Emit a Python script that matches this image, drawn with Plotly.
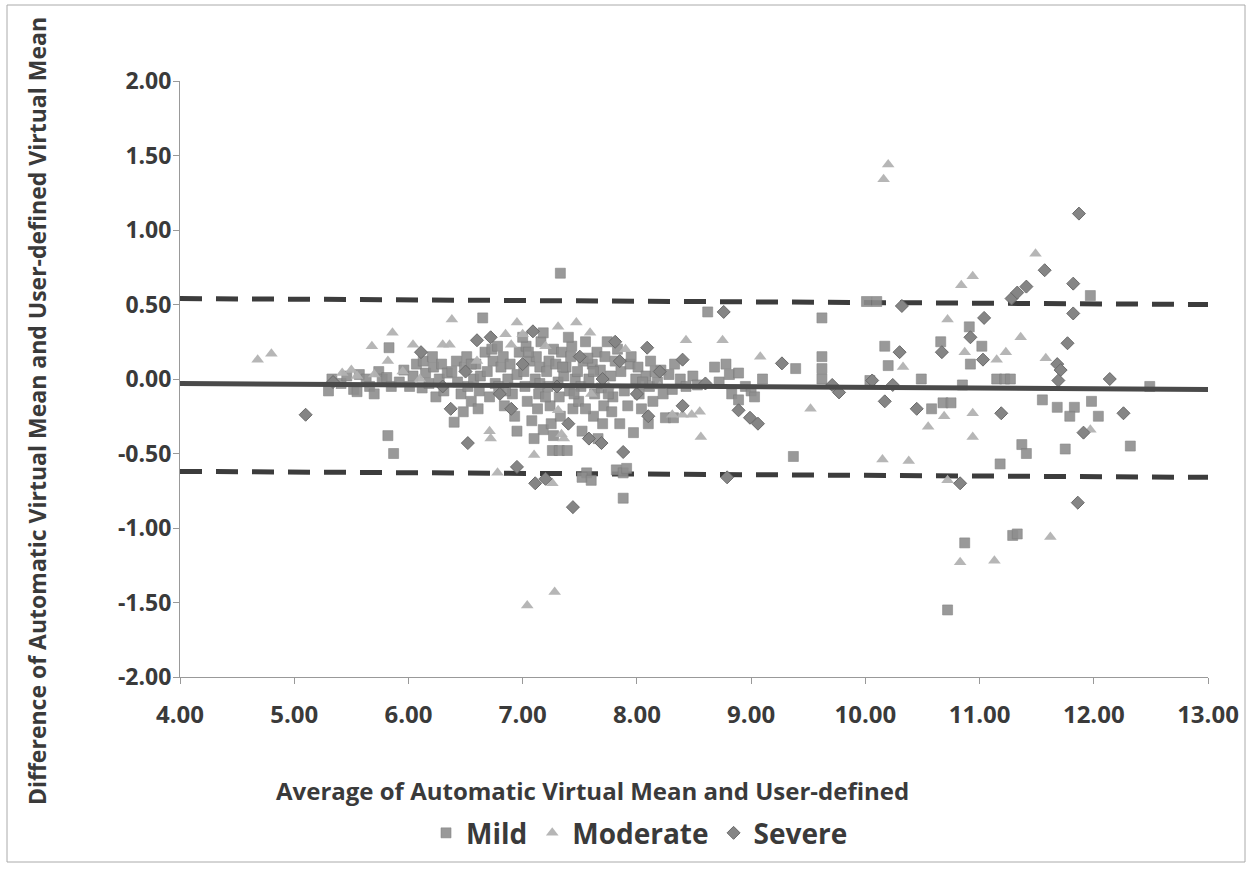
import plotly.graph_objects as go

# ---------------- data ----------------
mild_x = [5.30, 5.33, 5.41, 5.46, 5.52, 5.57, 5.55, 5.63, 5.66, 5.70, 5.74, 5.77, 5.81, 5.85, 5.83, 5.82, 5.87,
          5.92, 5.96, 6.01, 6.04, 6.07, 6.12, 6.15, 6.13, 6.18, 6.22, 6.24, 6.21, 6.27, 6.31, 6.29, 6.34,
          6.40, 6.38, 6.43, 6.42, 6.46, 6.49, 6.52, 6.51, 6.55, 6.57, 6.59, 6.62, 6.63, 6.61, 6.67, 6.65,
          6.69, 6.71, 6.74, 6.76, 6.73, 6.79, 6.81, 6.84, 6.83, 6.87, 6.89, 6.91, 6.93, 6.95, 6.97,
          7.01, 7.02, 7.04, 7.06, 7.03, 7.08, 7.11, 7.12, 7.14, 7.13, 7.16, 7.15, 7.18, 7.18,
          7.21, 7.22, 7.24, 7.23, 7.25, 7.27, 7.29, 7.31, 7.32, 7.34, 7.33, 7.36, 7.26, 7.32, 7.39, 7.33,
          7.38, 7.41, 7.42, 7.44, 7.46, 7.43, 7.48, 7.51, 7.49, 7.53, 7.52, 7.55, 7.56, 7.52, 7.60,
          7.58, 7.61, 7.63, 7.62, 7.65, 7.68, 7.69, 7.71, 7.72, 7.70, 7.74, 7.77, 7.79, 7.81, 7.78, 7.83,
          7.82, 7.88, 7.91, 7.88, 7.86, 7.89, 7.92, 7.94, 7.97, 7.99, 8.02, 8.01, 8.04, 8.08, 8.11, 8.12, 8.14,
          8.18, 8.21, 8.23, 8.25, 8.32, 8.28, 8.31, 8.33, 8.38, 8.43, 8.49, 8.53, 8.62, 8.68, 8.72,
          8.78, 8.81, 8.83, 8.89, 8.89, 8.95, 9.00, 9.03, 9.10,
          6.85, 7.05, 7.20, 7.35, 7.45, 7.62, 7.75, 7.95, 8.05, 6.55, 7.15, 7.40, 7.27, 7.66, 7.85,
          8.10, 6.95, 7.10, 7.55, 7.00, 6.48, 6.78, 7.57, 8.16,
          9.37, 9.39, 9.62, 9.62, 9.62, 9.62,
          10.01, 10.10, 10.04, 10.17, 10.20, 10.49, 10.58, 10.66, 10.68, 10.91, 10.92, 11.02, 11.15, 11.22,
          11.27, 11.55, 11.68, 11.83, 11.79, 11.98, 12.04, 12.32, 12.49, 11.37, 11.41, 11.75, 11.18, 11.97,
          10.72, 10.87, 11.29, 11.33, 10.75, 10.85]
mild_y = [-0.08, 0.00, -0.03, 0.02, -0.07, 0.03, -0.085, 0.00, -0.05, -0.10, 0.05, 0.00, 0.01, -0.05, 0.21, -0.38, -0.50,
          -0.02, 0.06, -0.05, 0.02, 0.10, -0.06, 0.04, 0.12, -0.03, 0.08, -0.12, 0.15, 0.00, -0.08, 0.10, 0.04,
          -0.29, 0.05, -0.02, 0.12, -0.10, 0.08, -0.05, 0.15, -0.15, 0.00, 0.10, -0.08, 0.02, -0.20, 0.18, 0.41,
          0.05, -0.12, 0.12, -0.03, 0.20, -0.05, 0.08, -0.18, 0.15, 0.00, 0.10, -0.10, -0.25, 0.03, 0.18,
          0.05, -0.05, -0.15, 0.12, 0.22, -0.28, 0.00, 0.15, -0.10, -0.20, 0.25, 0.08, 0.31, -0.34,
          0.05, -0.05, -0.18, 0.12, -0.30, 0.20, 0.10, -0.02, -0.12, 0.18, -0.25, 0.02, -0.48, -0.48, -0.48, 0.71,
          0.08, -0.08, 0.15, -0.20, 0.00, 0.22, 0.05, -0.05, -0.15, 0.12, -0.35, 0.25, -0.63, -0.66, -0.68,
          0.00, 0.10, -0.10, -0.25, 0.18, 0.06, -0.06, -0.18, 0.15, -0.30, 0.25, 0.02, -0.12, 0.12, -0.22, 0.20,
          -0.61, -0.63, -0.60, -0.80, 0.05, -0.08, -0.18, 0.10, -0.36, 0.00, -0.10, 0.08, -0.20, 0.02, -0.05, 0.12, -0.15,
          -0.02, 0.06, -0.10, -0.26, -0.26, 0.03, -0.07, 0.10, 0.00, -0.05, 0.02, -0.04, 0.45, 0.08, -0.02,
          0.10, 0.03, -0.10, 0.04, -0.14, -0.05, -0.08, -0.12, 0.00,
          -0.08, 0.18, -0.12, 0.08, -0.10, 0.05, -0.10, 0.15, -0.02, 0.10, -0.03, 0.28, -0.38, -0.40, -0.30,
          -0.30, -0.35, -0.40, -0.20, 0.28, -0.22, 0.22, 0.14, 0.05,
          -0.52, 0.07, 0.41, 0.15, 0.07, 0.00,
          0.52, 0.52, -0.01, 0.22, 0.09, 0.00, -0.20, 0.25, -0.16, 0.35, 0.10, 0.22, 0.00, 0.00,
          0.00, -0.14, -0.19, -0.19, -0.25, -0.15, -0.25, -0.45, -0.05, -0.44, -0.50, -0.47, -0.57, 0.56,
          -1.55, -1.10, -1.05, -1.04, -0.16, -0.04]

moderate_x = [4.68, 4.80, 5.42, 5.50, 5.55, 5.68, 5.86, 5.82, 6.04, 6.30, 6.36, 6.38, 6.71, 6.72, 6.78, 6.90,
              6.95, 7.10, 7.26, 7.31, 7.34, 7.36, 7.31, 7.47, 7.59, 8.31, 8.40, 8.48, 8.55, 8.56, 8.43, 8.75,
              9.08, 9.52, 10.16, 10.20, 10.15, 10.38, 10.33, 10.55, 10.69, 10.72, 10.84, 10.94, 10.87, 10.94,
              10.94, 11.15, 11.23, 11.36, 11.49, 11.58, 11.97, 10.72, 7.04, 7.28, 10.83, 11.13, 11.62,
              6.10, 6.60, 7.00, 7.20, 7.60, 7.90, 8.20, 5.70, 6.85, 7.75, 5.95]
moderate_y = [0.13, 0.17, 0.04, 0.06, 0.02, 0.22, 0.31, 0.12, 0.23, 0.23, 0.23, 0.40, -0.35, -0.40, -0.63, 0.23,
              0.38, -0.51, -0.70, 0.35, -0.37, -0.40, -0.21, 0.38, 0.31, -0.24, -0.24, -0.24, -0.22, -0.39, 0.26, 0.26,
              0.15, -0.20, 1.34, 1.44, -0.54, -0.55, 0.08, -0.32, -0.25, 0.40, 0.63, 0.69, 0.18, -0.23,
              -0.39, 0.13, 0.18, 0.28, 0.84, 0.14, -0.34, -0.68, -1.52, -1.43, -1.23, -1.22, -1.06,
              0.00, 0.12, 0.30, 0.22, -0.10, 0.20, -0.05, 0.03, 0.30, -0.05, 0.05]

severe_x = [5.10, 5.34, 6.11, 6.37, 6.52, 6.60, 6.72, 6.95, 7.09, 7.11, 7.20, 7.44, 7.58, 7.69, 7.81, 7.88,
            8.09, 8.40, 8.40, 8.76, 8.79, 8.89, 8.99, 9.06, 9.27, 9.71, 9.77, 10.06, 10.24, 10.17, 10.30,
            10.32, 10.45, 10.67, 10.83, 10.92, 11.03, 11.04, 11.19, 11.28, 11.33, 11.41, 11.57, 11.68, 11.71,
            11.69, 11.77, 11.82, 11.82, 11.87, 11.86, 11.91, 12.14, 12.26,
            6.50, 6.80, 7.00, 7.30, 7.50, 7.70, 8.00, 8.20, 8.60, 6.30, 7.85, 6.90, 7.40, 8.10]
severe_y = [-0.24, -0.02, 0.18, -0.20, -0.43, 0.26, 0.28, -0.59, 0.32, -0.70, -0.67, -0.86, -0.40, -0.43, 0.25, -0.49,
            0.21, 0.13, -0.18, 0.45, -0.66, -0.21, -0.26, -0.30, 0.105, -0.04, -0.09, -0.01, -0.04, -0.15, 0.18,
            0.49, -0.20, 0.18, -0.70, 0.28, 0.13, 0.41, -0.23, 0.54, 0.58, 0.62, 0.73, 0.10, 0.06,
            -0.01, 0.24, 0.64, 0.44, 1.11, -0.83, -0.36, 0.00, -0.23,
            0.05, -0.10, 0.10, -0.05, 0.15, 0.00, -0.10, 0.05, -0.03, -0.05, 0.12, -0.20, -0.30, -0.25]

# reference lines (mean difference and limits of agreement)
line_x = [4.0, 13.0]
mean_y = [-0.03, -0.07]
upper_y = [0.54, 0.50]
lower_y = [-0.62, -0.66]

x_ticks = [4, 5, 6, 7, 8, 9, 10, 11, 12, 13]
x_tick_labels = ["4.00", "5.00", "6.00", "7.00", "8.00", "9.00", "10.00", "11.00", "12.00", "13.00"]
y_ticks = [-2.0, -1.5, -1.0, -0.5, 0.0, 0.5, 1.0, 1.5, 2.0]
y_tick_labels = ["-2.00", "-1.50", "-1.00", "-0.50", "0.00", "0.50", "1.00", "1.50", "2.00"]

FONT = "Open Sans"
TXT = "#3a3a3a"

fig = go.Figure()

fig.add_trace(go.Scatter(x=line_x, y=upper_y, mode="lines", showlegend=False, hoverinfo="skip",
                         line=dict(color="#3c3c3c", width=5, dash="22px,14px")))
fig.add_trace(go.Scatter(x=line_x, y=lower_y, mode="lines", showlegend=False, hoverinfo="skip",
                         line=dict(color="#3c3c3c", width=5, dash="22px,14px")))

fig.add_trace(go.Scatter(x=mild_x, y=mild_y, mode="markers", name="Mild",
                         marker=dict(symbol="square", size=10, color="#8e8e8e", opacity=0.9,
                                     line=dict(width=0.6, color="#7a7a7a"))))
fig.add_trace(go.Scatter(x=moderate_x, y=moderate_y, mode="markers", name="Moderate",
                         marker=dict(symbol="triangle-up", size=11, color="#b2b2b2", opacity=0.95,
                                     line=dict(width=0))))
fig.add_trace(go.Scatter(x=severe_x, y=severe_y, mode="markers", name="Severe",
                         marker=dict(symbol="diamond", size=10, color="#858585",
                                     line=dict(width=1, color="#6a6a6a"))))

fig.add_trace(go.Scatter(x=line_x, y=mean_y, mode="lines", showlegend=False, hoverinfo="skip",
                         line=dict(color="#4a4a4a", width=5)))

fig.update_layout(
    width=1253, height=876,
    margin=dict(l=180, r=45, t=81, b=199),
    paper_bgcolor="white", plot_bgcolor="white",
    font=dict(family=FONT, color=TXT),
    showlegend=True,
    legend=dict(orientation="h", x=0.447, xanchor="center", y=-0.262, yanchor="middle",
                font=dict(family=FONT, size=28, color=TXT, weight="bold"),
                itemsizing="trace", itemwidth=30, bgcolor="rgba(0,0,0,0)"),
    xaxis=dict(range=[4, 13], tickvals=x_ticks, ticktext=x_tick_labels, showgrid=False, zeroline=False,
               showline=True, linecolor="#999999", linewidth=1, ticks="outside", ticklen=6,
               tickcolor="#999999", tickfont=dict(family=FONT, size=24, color=TXT, weight="bold"),
               ticklabelstandoff=10),
    yaxis=dict(range=[-2, 2], tickvals=y_ticks, ticktext=y_tick_labels, showgrid=False, zeroline=False,
               showline=True, linecolor="#999999", linewidth=1, ticks="outside", ticklen=6,
               tickcolor="#999999", tickfont=dict(family=FONT, size=23, color=TXT, weight="bold"),
               ticklabelstandoff=-3),
    annotations=[
        dict(text="Average of Automatic Virtual Mean and User-defined", xref="paper", yref="paper",
             x=(592 - 180) / 1028, y=(677 - 790) / 596, xanchor="center", yanchor="middle",
             showarrow=False, font=dict(family=FONT, size=24, color=TXT, weight="bold")),
        dict(text="Difference of Automatic Virtual Mean and User-defined Virtual Mean", xref="paper",
             yref="paper", x=(37 - 180) / 1028, y=(677 - 411) / 596, xanchor="center", yanchor="middle",
             textangle=-90, showarrow=False, font=dict(family=FONT, size=23, color=TXT, weight="bold")),
    ],
    shapes=[dict(type="rect", xref="paper", yref="paper",
                 x0=(7 - 180) / 1028, x1=(1245 - 180) / 1028, y0=(677 - 862) / 596, y1=(677 - 5) / 596,
                 line=dict(color="#aaaaaa", width=1))],
)

fig.write_html("out.html")
